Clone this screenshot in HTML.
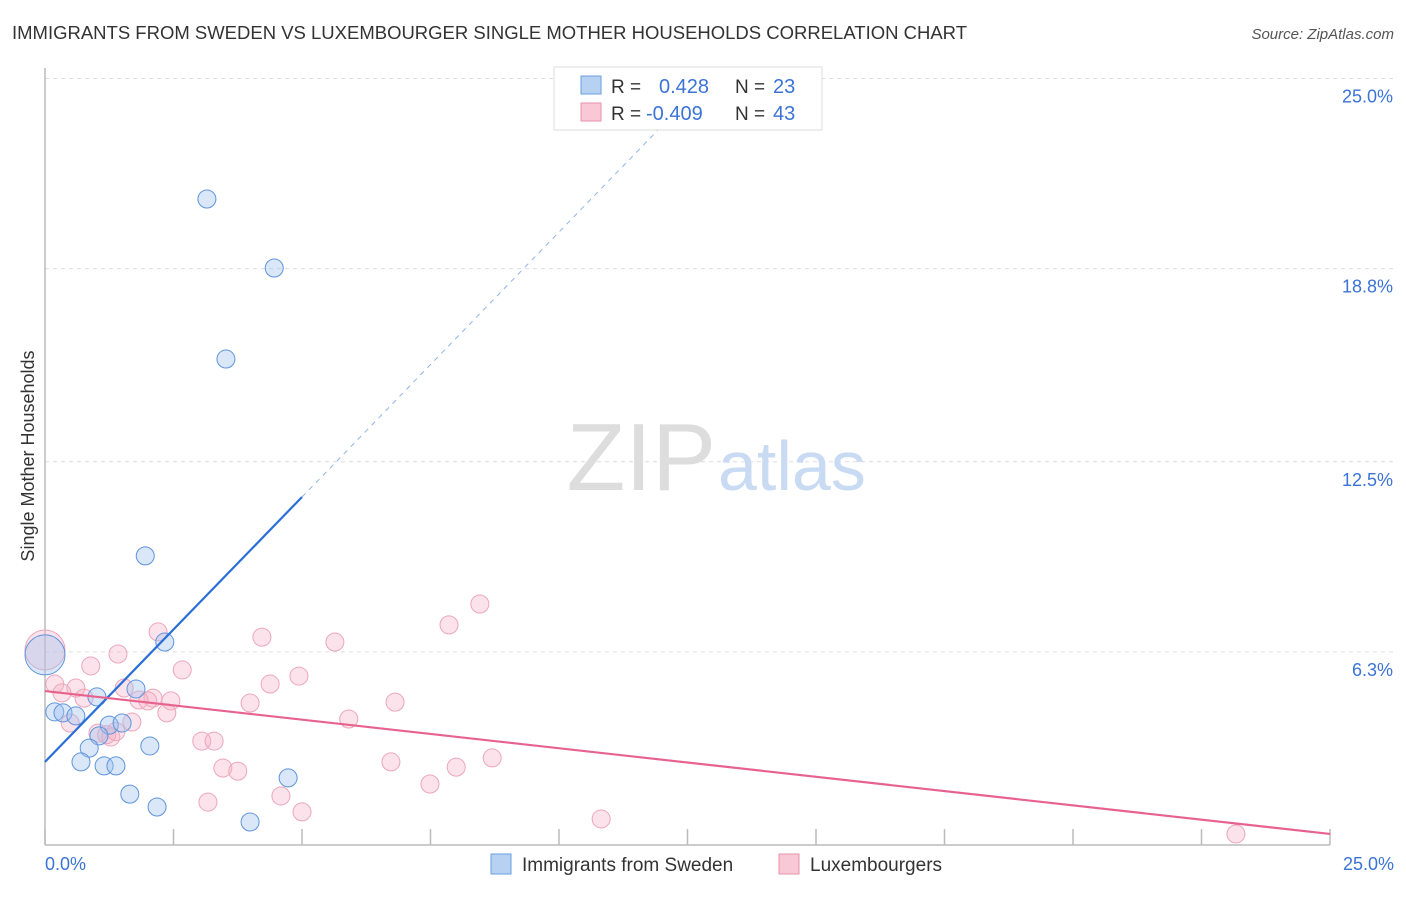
<!DOCTYPE html>
<html><head><meta charset="utf-8"><style>
body{margin:0;background:#fff;font-family:"Liberation Sans",sans-serif;}
svg text{font-family:"Liberation Sans",sans-serif;}
</style></head><body>
<svg id="c" width="1406" height="892">
<text x="12" y="39" font-size="18.5" fill="#333" textLength="955" lengthAdjust="spacingAndGlyphs">IMMIGRANTS FROM SWEDEN VS LUXEMBOURGER SINGLE MOTHER HOUSEHOLDS CORRELATION CHART</text>
<text x="1394" y="39" font-size="15" fill="#555" font-style="italic" text-anchor="end">Source: ZipAtlas.com</text>
<text transform="translate(34,456) rotate(-90)" font-size="18" fill="#333" text-anchor="middle">Single Mother Households</text>
<g id="grid"></g>
<text x="716" y="490" font-size="96" fill="#ddd" text-anchor="end" font-family="Liberation Serif">ZIP</text>
<text x="718" y="490" font-size="70" fill="#c9daf3">atlas</text>
<g id="pts"></g>
<g id="lines"></g>
<g>
<rect x="554" y="67" width="268" height="63" fill="#fff" stroke="#ddd"/>
<rect x="581" y="76" width="20" height="18" fill="#b7d1f3" stroke="#6a9ee0"/>
<text x="611" y="93" font-size="19" fill="#333">R =</text><text x="659" y="93" font-size="20" fill="#3b73d6">0.428</text>
<text x="735" y="93" font-size="19" fill="#333">N =</text><text x="773" y="93" font-size="20" fill="#3b73d6">23</text>
<rect x="581" y="103" width="20" height="18" fill="#f8c8d6" stroke="#e891ab"/>
<text x="611" y="120" font-size="19" fill="#333">R =</text><text x="646" y="120" font-size="20" fill="#3b73d6">-0.409</text>
<text x="735" y="120" font-size="19" fill="#333">N =</text><text x="773" y="120" font-size="20" fill="#3b73d6">43</text>
</g>
<g>
<rect x="491" y="854" width="20" height="20" fill="#b7d1f3" stroke="#6a9ee0"/>
<text x="522" y="871" font-size="19" fill="#333">Immigrants from Sweden</text>
<rect x="779" y="854" width="20" height="20" fill="#f8c8d6" stroke="#e891ab"/>
<text x="810" y="871" font-size="19" fill="#333">Luxembourgers</text>
</g>
</svg>
<script>
const yTicks=[6.3,12.5,18.8,25.0];
const yTickLabels=["6.3%","12.5%","18.8%","25.0%"];
const xTickLabels=["0.0%","25.0%"];
const swedenX=[3.15,4.46,3.52,1.95,2.33,1.77,0.19,0.35,0.60,1.01,1.25,1.50,1.05,0.86,2.04,0.70,1.15,1.38,1.65,2.18,3.99,4.73,0];
const swedenY=[21.07,18.82,15.85,9.43,6.62,5.09,4.34,4.31,4.21,4.83,3.91,3.98,3.56,3.16,3.23,2.71,2.58,2.58,1.66,1.24,0.75,2.19,6.2];
const luxX=[0,2.20,4.22,5.64,7.86,8.46,0.89,1.42,2.67,4.94,4.38,0.19,0.60,0.33,0.76,1.54,2.10,1.83,2.00,2.45,3.99,6.81,2.37,5.91,1.69,0.49,1.03,1.28,3.05,3.29,3.46,3.75,6.73,8.00,8.70,7.49,4.59,3.17,5.00,10.82,23.17,1.20,1.38];
const luxY=[6.36,6.95,6.78,6.62,7.18,7.86,5.84,6.23,5.71,5.51,5.25,5.25,5.12,4.96,4.79,5.12,4.79,4.73,4.70,4.70,4.63,4.66,4.31,4.11,4.01,3.98,3.65,3.52,3.39,3.39,2.51,2.41,2.71,2.54,2.84,1.99,1.60,1.40,1.08,0.85,0.36,3.60,3.70];
const swedenFit=[2.71,1.728];
const luxFit=[5.02,-0.1864];
const X=v=>45+v*51.4, Y=v=>845-v*30.66;
const NS="http://www.w3.org/2000/svg";
function mk(t,a,p){const e=document.createElementNS(NS,t);for(const k in a)e.setAttribute(k,a[k]);p.appendChild(e);return e;}
const g=document.getElementById('grid');
yTicks.forEach((t,i)=>{
 const l=mk('line',{x1:45,x2:1394,y1:Y(t),y2:Y(t),stroke:'#ddd','stroke-dasharray':'4,4'},g);
 
 
 const tx=mk('text',{x:1393,y:Y(t)+24,'font-size':18,fill:'#3b73d6','text-anchor':'end'},g);
 tx.textContent=yTickLabels[i];
 
 
});
const ax=mk('line',{x1:45,x2:45,y1:68,y2:845,stroke:'#bbb','stroke-width':1.5},g);


const bx=mk('line',{x1:45,x2:1330,y1:845,y2:845,stroke:'#bbb','stroke-width':1.5},g);


for(let i=0;i<=10;i++){const tk=mk('line',{x1:X(i*2.5),x2:X(i*2.5),y1:829,y2:845,stroke:'#bbb','stroke-width':1.5},g);
 
 }
[[45,'start',0],[1394,'end',1]].forEach(([x,a,i])=>{const t=mk('text',{x:x,y:870,'font-size':18,fill:'#3b73d6','text-anchor':a},g);t.textContent=xTickLabels[i];
 
 });
const p=document.getElementById('pts');
luxX.forEach((v,i)=>{const c=mk('circle',{cx:X(v),cy:Y(luxY[i]),r:i==0?20:9,fill:'rgba(246,176,198,0.35)',stroke:'#eca6bb','stroke-width':1},p);
 
 });
swedenX.forEach((v,i)=>{const c=mk('circle',{cx:X(v),cy:Y(swedenY[i]),r:i==22?20:9,fill:'rgba(160,196,240,0.4)',stroke:'#5f94dc','stroke-width':1},p);
 
 });
const L=document.getElementById('lines');
const f=(fit,x)=>fit[0]+fit[1]*x;
let l1=mk('line',{x1:X(0),y1:Y(f(swedenFit,0)),x2:X(5),y2:Y(f(swedenFit,5)),stroke:'#2a6fd8','stroke-width':2.2},L);


let l2=mk('line',{x1:X(5),y1:Y(f(swedenFit,5)),x2:X(12.9),y2:Y(f(swedenFit,12.9)),stroke:'#8fb4ea','stroke-width':1,'stroke-dasharray':'5,5'},L);


let l3=mk('line',{x1:X(0),y1:Y(f(luxFit,0)),x2:X(25),y2:Y(f(luxFit,25)),stroke:'#e8628e','stroke-width':2.2},L);


</script>
</body></html>
